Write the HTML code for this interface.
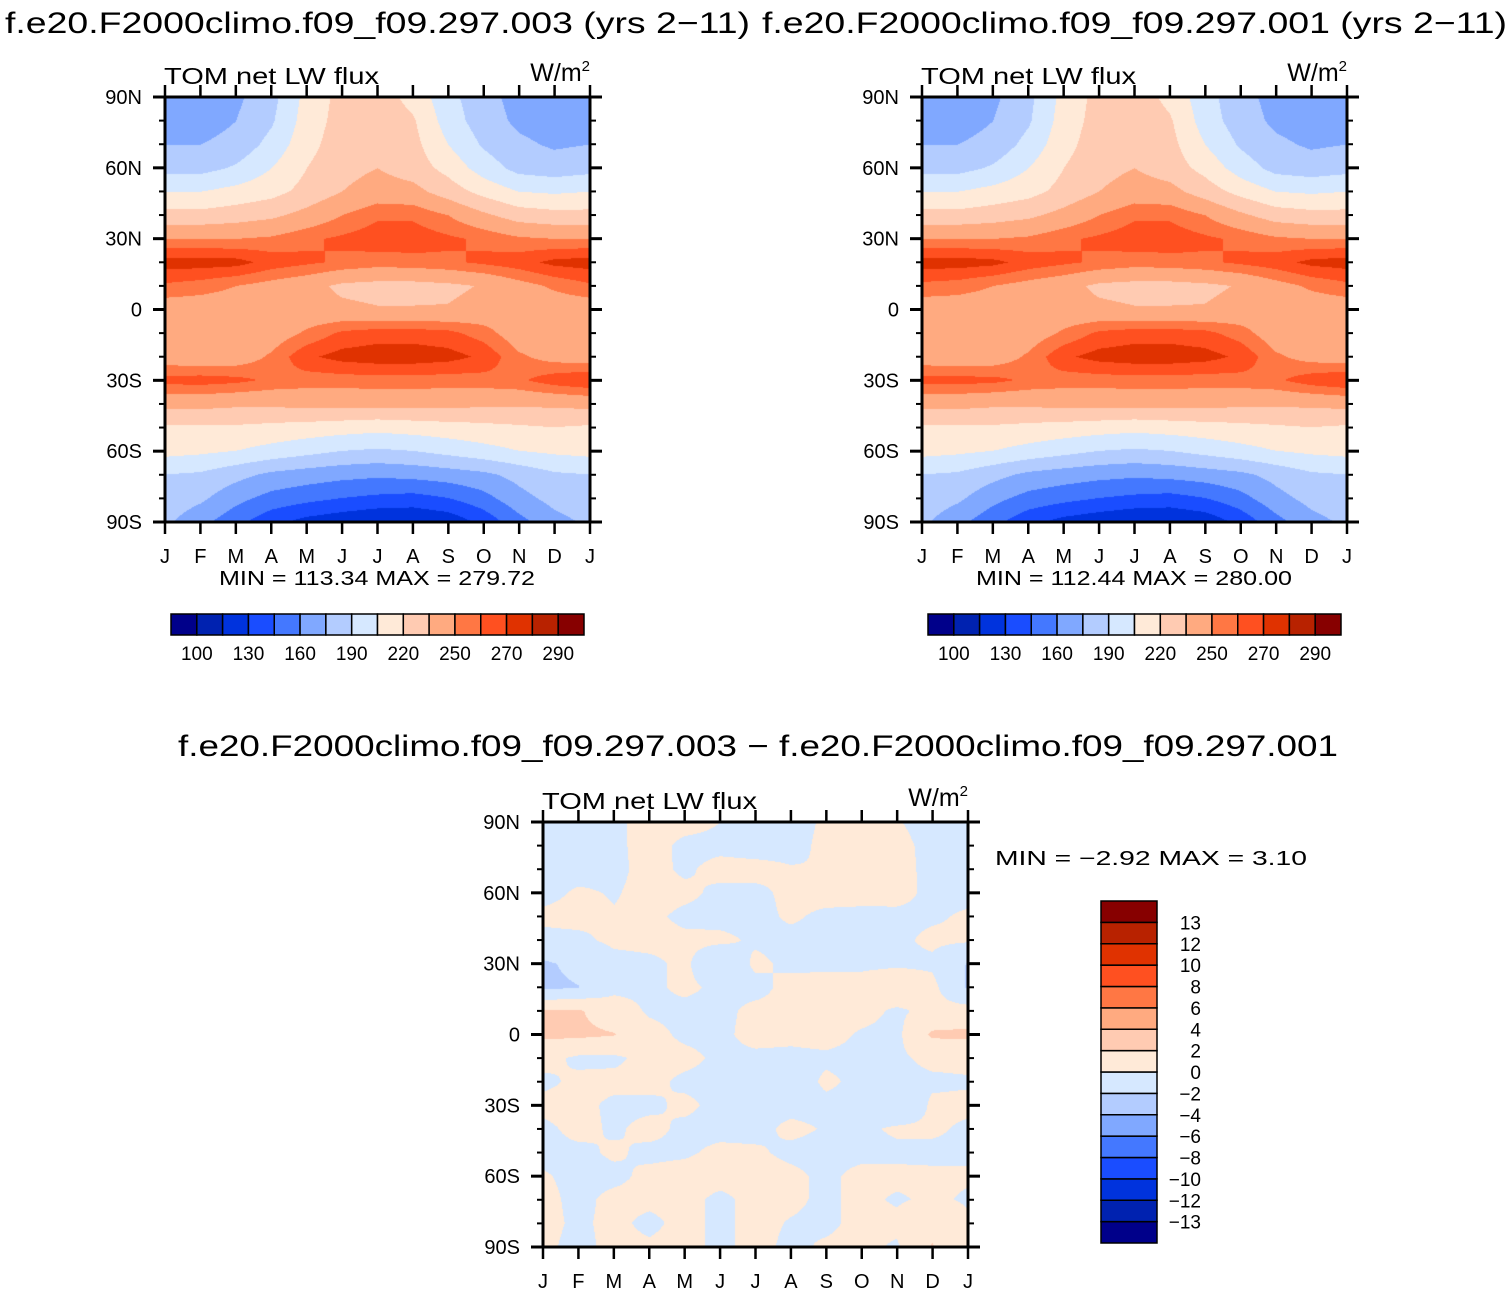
<!DOCTYPE html>
<html><head><meta charset="utf-8">
<style>
html,body{margin:0;padding:0;background:#fff;}
#root{position:relative;width:1512px;height:1294px;overflow:hidden;background:#fff;}
canvas{position:absolute;}
svg{position:absolute;left:0;top:0;}
text{font-family:"Liberation Sans",sans-serif;fill:#000;}
</style></head>
<body>
<div id="root">
<canvas id="c1" width="425" height="425" style="left:165px;top:97px"></canvas>
<canvas id="c2" width="425" height="425" style="left:922px;top:97px"></canvas>
<canvas id="c3" width="425" height="425" style="left:543px;top:822px"></canvas>
<svg id="ov" width="1512" height="1294">
<text x="5" y="33" font-size="30" textLength="745" lengthAdjust="spacingAndGlyphs">f.e20.F2000climo.f09_f09.297.003 (yrs 2−11)</text>
<text x="762" y="33" font-size="30" textLength="745" lengthAdjust="spacingAndGlyphs">f.e20.F2000climo.f09_f09.297.001 (yrs 2−11)</text>
<text x="178" y="756" font-size="30" textLength="1160" lengthAdjust="spacingAndGlyphs">f.e20.F2000climo.f09_f09.297.003 − f.e20.F2000climo.f09_f09.297.001</text>
<text x="995" y="865" font-size="20" textLength="312" lengthAdjust="spacingAndGlyphs">MIN =   −2.92 MAX =    3.10</text>
<g id="axes"></g>
</svg>
</div>
<script>
const months = ["J","F","M","A","M","J","J","A","S","O","N","D","J"];
const latLabels = ["90N","60N","30N","0","30S","60S","90S"];
const levelsTop = [100,115,130,145,160,175,190,205,220,235,250,260,270,280,290];
const levelsDiff = [-13,-12,-10,-8,-6,-4,-2,0,2,4,6,8,10,12,13];
const topBarLabels = ["100","130","160","190","220","250","270","290"];
const diffBarLabels = ["−13","−12","−10","−8","−6","−4","−2","0","2","4","6","8","10","12","13"];
const palette = ["#00008a","#0022b0","#0033dd","#1a4dff","#4478ff","#80a8ff","#b3ccff","#d6e8ff","#ffead8","#ffcbb2","#ffaa80","#ff7744","#ff5020","#e03200","#b82200","#870000"];
// rows: 90N..90S every 10 deg ; columns: J..J
const valuesA = [
[168,165,172,185,210,225,228,215,195,180,170,168,168],
[168,168,175,188,212,226,230,222,198,182,172,168,168],
[175,175,180,195,215,228,232,225,205,188,178,173,175],
[185,185,192,205,220,230,235,228,215,198,185,182,185],
[205,205,210,215,225,235,242,240,228,215,205,203,205],
[225,225,228,232,240,250,258,258,250,238,228,225,225],
[250,250,250,252,258,262,266,266,262,258,252,250,250],
[275,275,274,266,262,258,255,256,258,262,266,273,275],
[258,255,250,245,240,232,230,230,232,236,245,252,258],
[242,242,242,240,240,238,236,236,236,240,242,242,242],
[242,240,236,242,252,262,265,265,263,255,242,240,242],
[242,240,242,252,268,274,276,276,274,268,252,245,242],
[264,265,263,258,255,255,256,256,255,256,258,266,270],
[240,240,238,238,240,240,240,240,240,238,238,238,240],
[218,218,218,216,214,212,210,212,214,216,218,220,218],
[210,208,205,200,195,190,188,190,195,200,205,208,210],
[190,188,180,172,168,165,163,165,168,172,180,188,190],
[185,178,165,155,150,145,142,140,145,155,170,180,185],
[178,165,150,135,125,120,115,115,120,135,155,170,178]];
const valuesB = [
[168,166,172,186,210,225,228,216,196,180,170,168,168],
[168,168,175,188,212,226,230,222,198,182,172,168,168],
[175,175,180,195,215,228,232,225,205,188,178,173,175],
[185,185,192,205,220,230,235,228,215,198,185,182,185],
[205,205,210,215,225,235,242,240,228,215,205,203,205],
[225,225,228,232,240,250,258,258,250,238,228,225,225],
[250,250,250,252,258,262,266,266,262,258,252,250,250],
[275,275,273,266,262,258,255,256,258,262,266,273,275],
[257,255,250,245,240,232,230,230,232,236,245,252,257],
[242,242,242,240,240,238,236,236,236,240,242,242,242],
[242,240,236,242,252,262,265,265,263,255,242,240,242],
[242,240,242,252,268,274,276,276,274,268,252,245,242],
[264,264,263,258,255,255,256,256,255,256,258,266,270],
[240,240,238,238,240,240,240,240,240,238,238,238,240],
[218,218,218,216,214,212,210,212,214,216,218,220,218],
[210,208,205,200,195,190,188,190,195,200,205,208,210],
[190,188,180,172,168,165,163,165,168,172,180,188,190],
[185,178,165,155,150,145,142,140,145,155,170,180,185],
[178,165,150,135,125,120,115,115,120,135,155,170,178]];
const valuesDiff = [
[-0.5,-0.5,-0.3,0.5,0.4,0,-0.4,-0.5,0.2,0.5,0.1,-0.5,-0.5],
[-0.5,-0.5,-0.3,0.5,-0.3,-0.3,-0.5,-0.4,0.3,0.6,0.4,-0.4,-0.5],
[-0.5,-0.5,-0.3,0.4,-0.2,0.4,0.4,0.1,0,0.6,0.5,-0.4,-0.5],
[-0.4,0.2,-0.1,0.4,0.3,-0.3,-0.3,0.3,0.5,0.5,0.4,-0.3,-0.4],
[0.3,0.4,0.1,0.3,-0.3,-0.4,-0.4,0.2,-0.3,-0.4,-0.3,-0.2,0.2],
[-0.4,-0.3,0.3,0.4,0.3,0.3,-0.2,-0.4,-0.4,-0.5,-0.3,0.3,0.2],
[-2.3,-1.5,-0.5,-0.3,0.3,-1.5,0.3,-0.3,-0.4,-0.4,-0.3,-0.3,-2.1],
[-2.4,-2.05,-0.4,-0.3,0.3,-0.3,-0.5,0.5,0.7,0.8,1.5,0.5,-2.2],
[2.1,2.2,0.8,-0.2,-0.4,-0.4,0.4,0.3,0.6,0.6,-0.3,0.5,0.8],
[2.4,2.4,2.1,0.5,-0.3,-0.4,0.6,0.4,0.6,-0.2,-0.4,2.3,2.4],
[0.5,-0.3,-0.3,0.5,0.4,-0.3,-0.4,-0.4,-0.3,-0.4,-0.3,0.4,0.5],
[-0.3,0.3,0.4,0.4,-0.3,-0.4,-0.5,-1,0.3,-0.4,-0.4,-0.3,-0.2],
[0.4,0.4,-0.3,-0.3,0.3,-0.4,-0.4,-0.4,-0.4,-0.5,-2,0.3,0.4],
[-0.3,0.4,-0.2,0.4,-0.3,-0.4,-0.4,0.3,-0.1,-0.4,0.3,0.3,-0.3],
[-0.3,-0.3,0.2,-0.3,-0.2,0.3,0.2,-0.3,-0.4,-0.4,-0.4,-0.4,-0.3],
[0.1,-0.3,-0.3,0.3,0.5,0.5,0.5,0.3,-0.3,0.4,0.4,0.3,0.2],
[0.3,-0.3,0.3,0.3,0.4,-0.3,0.4,0.3,-0.3,0.4,-0.2,0.3,-0.2],
[0.3,-0.2,0.3,-0.3,0.4,-0.3,0.4,-0.1,-0.3,0.4,0.4,1.5,0.3],
[0.2,-0.3,0.3,0.2,0.4,-0.3,0.4,-0.3,0.2,0.4,-0.2,2.1,0.3]];

const NS="http://www.w3.org/2000/svg";
const axes=document.getElementById('axes');
function hex(c){return [parseInt(c.substr(1,2),16),parseInt(c.substr(3,2),16),parseInt(c.substr(5,2),16)];}
const pal=palette.map(hex);
function levelIndex(v,levels){let k=0;while(k<levels.length&&v>=levels[k])k++;return k;}
function drawField(id,vals,levels){
  const cv=document.getElementById(id),ctx=cv.getContext('2d');
  const W=cv.width,H=cv.height,img=ctx.createImageData(W,H);
  const nr=vals.length,nc=vals[0].length;
  for(let y=0;y<H;y++){const fy=y/(H-1)*(nr-1);const r0=Math.min(Math.floor(fy),nr-2),ty=fy-r0;
    for(let x=0;x<W;x++){const fx=x/(W-1)*(nc-1);const c0=Math.min(Math.floor(fx),nc-2),tx=fx-c0;
      const v=(vals[r0][c0]*(1-tx)+vals[r0][c0+1]*tx)*(1-ty)+(vals[r0+1][c0]*(1-tx)+vals[r0+1][c0+1]*tx)*ty;
      const col=pal[levelIndex(v,levels)];const p=(y*W+x)*4;
      img.data[p]=col[0];img.data[p+1]=col[1];img.data[p+2]=col[2];img.data[p+3]=255;}}
  ctx.putImageData(img,0,0);
}
function mk(tag,attrs,parent){const e=document.createElementNS(NS,tag);for(const k in attrs)e.setAttribute(k,attrs[k]);(parent||axes).appendChild(e);return e;}
function line(x1,y1,x2,y2,w,g){return mk('line',{x1:x1,y1:y1,x2:x2,y2:y2,stroke:'#000','stroke-width':w},g);}
function frame(X,Y,name){
  const S=425;const g=mk('g',{});
  
  
  mk('rect',{x:X,y:Y,width:S,height:S,fill:'none',stroke:'#000','stroke-width':3},g);
  months.forEach((m,i)=>{const x=X+i*S/12;line(x,Y-12,x,Y,2.5,g);line(x,Y+S,x,Y+S+12,2.5,g);
    const t=mk('text',{x:x,y:Y+S+41,'font-size':20,'text-anchor':'middle'},g);t.textContent=m;
    
    });
  for(let k=0;k<=18;k++){const y=Y+k*S/18;const maj=k%3===0;const L=maj?12:6;
    line(X-L,y,X,y,maj?3:2,g);line(X+S,y,X+S+L,y,maj?3:2,g);}
  latLabels.forEach((l,i)=>{const y=Y+i*S/6;const t=mk('text',{x:X-23,y:y+7,'font-size':20,'text-anchor':'end'},g);t.textContent=l;
    
    });
  const t1=mk('text',{x:X-1,y:Y-13,'font-size':23,textLength:215,lengthAdjust:'spacingAndGlyphs'},g);t1.textContent='TOM net LW flux';
  
  
  const t2=mk('text',{x:X+S,y:Y-16,'font-size':25,'text-anchor':'end'},g);
  
  
  t2.innerHTML='W/m<tspan font-size="15" dy="-10">2</tspan>';
}
function hbar(X,Y,W,H,minmax,name){
  const g=mk('g',{});
  
  
  const bw=W/palette.length;
  palette.forEach((c,i)=>{const r=mk('rect',{x:X+i*bw,y:Y,width:bw,height:H,fill:c,stroke:'#000','stroke-width':1.5},g);
    
    });
  topBarLabels.forEach((l,i)=>{const idx=[0,2,4,6,8,10,12,14][i];const t=mk('text',{x:X+(idx+1)*bw,y:Y+46,'font-size':19,'text-anchor':'middle'},g);t.textContent=l;
    
    });
  const m=mk('text',{x:X+206,y:Y-29,'font-size':20,'text-anchor':'middle',textLength:316,lengthAdjust:'spacingAndGlyphs'},g);m.textContent=minmax;
  
  
}
function vbar(X,Y,W,H,name){
  const g=mk('g',{});
  
  
  const bh=H/palette.length;
  palette.forEach((c,i)=>{const r=mk('rect',{x:X,y:Y+H-(i+1)*bh,width:W,height:bh,fill:c,stroke:'#000','stroke-width':1.5},g);
    
    });
  diffBarLabels.forEach((l,i)=>{const t=mk('text',{x:X+W+44,y:Y+H-(i+1)*bh+7,'font-size':19,'text-anchor':'end'},g);t.textContent=l;
    
    });
}
drawField('c1',valuesA,levelsTop);
drawField('c2',valuesB,levelsTop);
drawField('c3',valuesDiff,levelsDiff);
frame(165,97,'panel-003');
frame(922,97,'panel-001');
frame(543,822,'panel-difference');
hbar(171,614,413,21,'MIN = 113.34 MAX = 279.72','colorbar-003');
hbar(928,614,413,21,'MIN = 112.44 MAX = 280.00','colorbar-001');
vbar(1101,901,56,342,'colorbar-difference');
</script>
</body></html>
